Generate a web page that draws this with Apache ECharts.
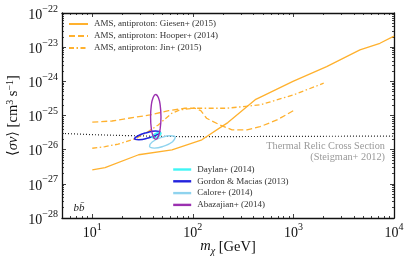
<!DOCTYPE html>
<html>
<head>
<meta charset="utf-8">
<script src="https://cdn.jsdelivr.net/npm/echarts@6/dist/echarts.min.js"></script>
<style>html,body{margin:0;padding:0;background:#fff}#c{width:415px;height:257px}</style>
</head>
<body>
<div id="c"></div>
<script>
// ---- axis ticks ----
const xMajorTicks = [10, 100, 1000, 10000];
const yMajorTicks = [1e-28, 1e-27, 1e-26, 1e-25, 1e-24, 1e-23, 1e-22];

// ---- AMS antiproton limits (mass GeV, <sigma v> cm^3/s) ----
const giesenMass = [10, 13.4, 28.9, 62, 123, 195, 223, 417, 465, 989, 2139, 4584, 7244, 10000];
const giesenSv   = [2.57e-27, 3.0e-27, 7.1e-27, 9.9e-27, 1.94e-26, 4.8e-26, 6.2e-26, 2.9e-25, 3.4e-25, 1.0e-24, 2.7e-24, 8.3e-24, 1.3e-23, 2.1e-23];

const hooperMass = [10, 15.7, 23, 37.5, 57.5, 83.5, 105, 120, 137, 186, 245, 345, 465, 686, 1000];
const hooperSv   = [6.4e-26, 6.9e-26, 8.3e-26, 1.04e-25, 1.39e-25, 1.63e-25, 1.63e-25, 1.39e-25, 8.3e-26, 5.3e-26, 3.8e-26, 3.8e-26, 4.7e-26, 7.4e-26, 1.39e-25];

const jinMass = [10, 13.4, 18.1, 26.6, 36.1, 45.3, 52.8, 62, 74.5, 101, 217, 465, 996, 2000];
const jinSv   = [1.1e-26, 1.23e-26, 1.45e-26, 2.07e-26, 3.4e-26, 5.3e-26, 7.9e-26, 1.17e-25, 1.46e-25, 1.63e-25, 1.63e-25, 2.04e-25, 4.0e-25, 8.8e-25];

// ---- thermal relic cross section ----
const relicMass = [5, 10, 20, 50, 100, 1000, 10000];
const relicSv   = [3.0e-26, 2.75e-26, 2.6e-26, 2.45e-26, 2.4e-26, 2.45e-26, 2.5e-26];

// ---- Galactic Center excess contours (closed) ----
const daylanMass = [48.2, 47.3, 44.3, 41.0, 39.2, 40.0, 42.7, 46.1];
const daylanSv   = [3.06e-26, 2.71e-26, 2.37e-26, 2.21e-26, 2.29e-26, 2.58e-26, 2.96e-26, 3.16e-26];

const gordonMass = [47.1, 43.8, 35.8, 29.0, 26.3, 28.3, 34.6, 42.7];
const gordonSv   = [3.31e-26, 2.73e-26, 2.18e-26, 1.95e-26, 2.07e-26, 2.52e-26, 3.14e-26, 3.52e-26];

const caloreMass = [66.9, 62.9, 51.5, 41.4, 37.1, 39.4, 48.1, 59.9];
const caloreSv   = [2.29e-26, 1.71e-26, 1.27e-26, 1.11e-26, 1.25e-26, 1.67e-26, 2.24e-26, 2.56e-26];

const abazMass = [42.8, 45.4, 47.4, 48.2, 47.4, 45.4, 42.8, 40.3, 38.6, 38.0, 38.6, 40.3];
const abazSv   = [4.14e-25, 3.38e-25, 1.94e-25, 9.1e-26, 4.27e-26, 2.45e-26, 2.0e-26, 2.45e-26, 4.27e-26, 9.1e-26, 1.94e-25, 3.38e-25];

// ---------------------------------------------------------------
// x uses ECharts' log axis directly; y uses a value axis in log10 units
// (ECharts' log scale rounds values as small as 1e-28 to zero).
const FONT = "'Liberation Serif','DejaVu Serif',serif";
const ORANGE = '#FFB12E';
const X_MIN = 5, X_MAX = 10001;
const L = Math.log10;
const yMajorLog = yMajorTicks.map(v => Math.round(L(v)));
const Y_MIN = yMajorLog[0], Y_MAX = yMajorLog[yMajorLog.length - 1];

function minorTicks(lo, hi) {
  const out = [];
  for (let n = lo; n <= hi; n++) for (let k = 2; k <= 9; k++) out.push(k * Math.pow(10, n));
  return out;
}
const xMinorTicks = minorTicks(0, 3).filter(v => v > 5);
const yMinorLog = [];
for (let n = Y_MIN; n < Y_MAX; n++) for (let k = 2; k <= 9; k++) yMinorLog.push(n + L(k));

function pts(a, b) { return a.map((v, i) => [v, L(b[i])]); }
function closed(a, b) { const p = pts(a, b); return p.concat([p[0], p[1]]); }

function expLabel(e) { return '{b|10}{e|' + (e < 0 ? '\u2212' : '') + Math.abs(e) + '}'; }
const tickRich = {
  b: { fontFamily: FONT, fontSize: 14, lineHeight: 18, verticalAlign: 'bottom', color: '#111' },
  e: { fontFamily: FONT, fontSize: 10, lineHeight: 10, verticalAlign: 'top', color: '#111' }
};

function mkAxis(kind, type, pos, min, max, ticks, len, mainAxis, withLabel, extra) {
  const ax = {
    type: type, position: pos, min: min, max: max,
    splitLine: { show: false },
    axisLine: { show: mainAxis, onZero: false, lineStyle: { color: '#111', width: 1.3 } },
    axisTick: { show: true, inside: true, length: len, customValues: ticks, lineStyle: { color: '#111', width: 0.8 } },
    axisLabel: withLabel ? {
      show: true, customValues: ticks, rich: tickRich, fontFamily: FONT,
      formatter: kind === 'x' ? (v => expLabel(Math.round(L(v)))) : (v => expLabel(Math.round(v))),
      margin: 4
    } : { show: false },
    minorTick: { show: false }
  };
  if (type === 'log') ax.logBase = 10;
  return Object.assign(ax, extra || {});
}

const xAxes = [
  mkAxis('x', 'log', 'bottom', X_MIN, X_MAX, xMajorTicks, 4, true, true, {
    name: '{i|m}{s|\u03c7} [GeV]', nameLocation: 'middle', nameGap: 21, nameMoveOverlap: false,
    nameTextStyle: { fontFamily: FONT, fontSize: 14.5, color: '#111',
      rich: { i: { fontFamily: FONT, fontStyle: 'italic', fontSize: 14.5, lineHeight: 17, verticalAlign: 'top' },
              s: { fontFamily: FONT, fontStyle: 'italic', fontSize: 10, lineHeight: 11, verticalAlign: 'bottom' } } }
  }),
  mkAxis('x', 'log', 'bottom', X_MIN, X_MAX, xMinorTicks, 2, false, false),
  mkAxis('x', 'log', 'top', X_MIN, X_MAX, xMajorTicks, 4, true, false),
  mkAxis('x', 'log', 'top', X_MIN, X_MAX, xMinorTicks, 2, false, false)
];
const yAxes = [
  mkAxis('y', 'value', 'left', Y_MIN, Y_MAX, yMajorLog, 4, true, true, {
    name: '\u27e8{i|\u03c3v}\u27e9 [cm{s|3} s{s|\u22121}]', nameLocation: 'middle', nameGap: 40, nameMoveOverlap: false,
    nameTextStyle: { fontFamily: FONT, fontSize: 14.5, color: '#111',
      rich: { i: { fontFamily: FONT, fontStyle: 'italic', fontSize: 14.5, lineHeight: 17 },
              s: { fontFamily: FONT, fontSize: 10, lineHeight: 10, verticalAlign: 'top' } } }
  }),
  mkAxis('y', 'value', 'left', Y_MIN, Y_MAX, yMinorLog, 2, false, false),
  mkAxis('y', 'value', 'right', Y_MIN, Y_MAX, yMajorLog, 4, true, false),
  mkAxis('y', 'value', 'right', Y_MIN, Y_MAX, yMinorLog, 2, false, false)
];

function lineSeries(name, data, color, width, type, extra) {
  return Object.assign({
    name: name, type: 'line', data: data, symbol: 'none', showSymbol: false,
    xAxisIndex: 0, yAxisIndex: 0, silent: true, animation: false,
    lineStyle: { color: color, width: width, type: type },
    itemStyle: { color: color }
  }, extra || {});
}

const legendCommon = {
  orient: 'vertical', padding: 0, selectedMode: false,
  itemStyle: { opacity: 0, borderWidth: 0 },
  textStyle: { fontFamily: FONT, fontSize: 9, color: '#333', padding: [0, 0, 0, 1] }
};

const option = {
  animation: false,
  backgroundColor: '#fff',
  grid: { left: 62, right: 21, top: 13, bottom: 39, containLabel: false, outerBoundsMode: 'none' },
  xAxis: xAxes,
  yAxis: yAxes,
  legend: [
    Object.assign({}, legendCommon, {
      data: ['AMS, antiproton: Giesen+ (2015)', 'AMS, antiproton: Hooper+ (2014)', 'AMS, antiproton: Jin+ (2015)'],
      left: 68, top: 19.5, itemWidth: 19, itemHeight: 9, itemGap: 3
    }),
    Object.assign({}, legendCommon, {
      data: ['Daylan+ (2014)', 'Gordon & Macias (2013)', 'Calore+ (2014)', 'Abazajian+ (2014)'],
      left: 172, top: 165, itemWidth: 18, itemHeight: 8, itemGap: 2.8,
      lineStyle: { width: 2.4 }
    })
  ],
  graphic: [
    { type: 'text', silent: true, style: { x: 385, y: 146, text: 'Thermal Relic Cross Section', align: 'right', verticalAlign: 'middle', fill: '#999', font: "10.3px 'Liberation Serif', serif" } },
    { type: 'text', silent: true, style: { x: 385, y: 157.5, text: '(Steigman+ 2012)', align: 'right', verticalAlign: 'middle', fill: '#999', font: "10.3px 'Liberation Serif', serif" } },
    { type: 'text', silent: true, style: { x: 79, y: 208, text: 'bb\u0304', align: 'center', verticalAlign: 'middle', fill: '#222', font: "italic 11px 'Liberation Serif', serif" } }
  ],
  series: [
    lineSeries('Thermal Relic', pts(relicMass, relicSv), '#222', 1.2, [1, 2]),
    lineSeries('AMS, antiproton: Giesen+ (2015)', pts(giesenMass, giesenSv), ORANGE, 1.3, 'solid'),
    lineSeries('AMS, antiproton: Hooper+ (2014)', pts(hooperMass, hooperSv), ORANGE, 1.3, [6, 3]),
    lineSeries('AMS, antiproton: Jin+ (2015)', pts(jinMass, jinSv), ORANGE, 1.3, [5, 2.5, 1.5, 2.5]),
    lineSeries('Gordon & Macias (2013)', closed(gordonMass, gordonSv), '#2222DD', 1.6, 'solid', { smooth: 0.5 }),
    lineSeries('Calore+ (2014)', closed(caloreMass, caloreSv), '#8FD3EE', 1.4, 'solid', { smooth: 0.5 }),
    lineSeries('Daylan+ (2014)', closed(daylanMass, daylanSv), '#3FF5F5', 1.6, 'solid', { smooth: 0.5 }),
    lineSeries('Abazajian+ (2014)', closed(abazMass, abazSv), '#9B30B0', 1.4, 'solid', { smooth: 0.5 })
  ]
};

const chart = echarts.init(document.getElementById('c'), null, { renderer: 'canvas' });
chart.setOption(option);
</script>
</body>
</html>
